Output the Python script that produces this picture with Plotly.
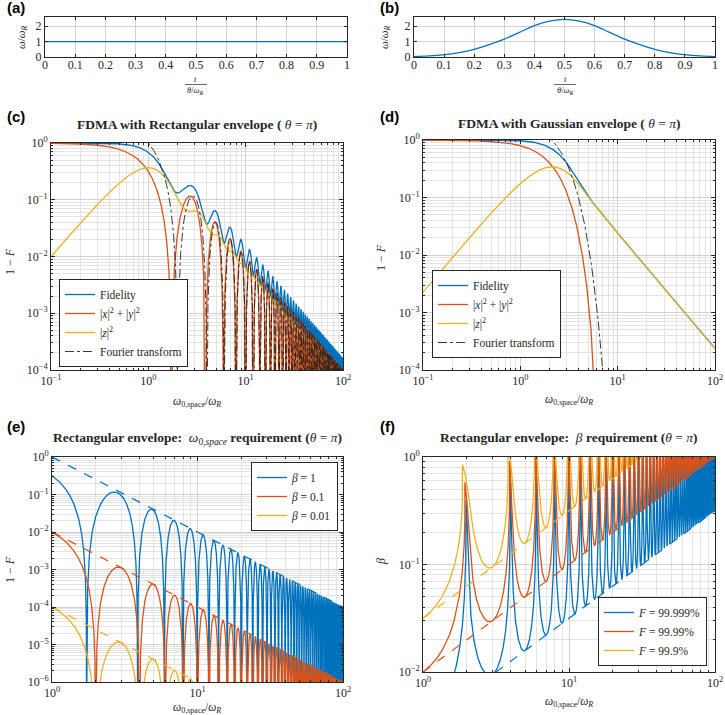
import numpy as np
import plotly.graph_objects as go

# ---------------- parameters / data ----------------
THETA = np.pi                      # pulse area (theta = pi)
GAUSS_SIGMA = 0.144                # Gaussian envelope width used for panel (d), units of theta/omega_R
BETAS = [1.0, 0.1, 0.01]
BETA_LABELS = ["<i>β</i> = 1", "<i>β</i> = 0.1", "<i>β</i> = 0.01"]
FIDELITIES = [0.99999, 0.9999, 0.999]
FID_LABELS = ["<i>F</i> = 99.999%", "<i>F</i> = 99.99%", "<i>F</i> = 99.9%"]
FDMA_LABELS = ["Fidelity", "|<i>x</i>|<sup>2</sup> + |<i>y</i>|<sup>2</sup>",
               "|<i>z</i>|<sup>2</sup>", "Fourier transform"]

# panel (a): rectangular envelope omega/omega_R vs t/(theta/omega_R)
rect_t = [0.0, 1.0]
rect_w = [1.0, 1.0]
# panel (b): Gaussian envelope
gauss_t = [0.0, 0.05, 0.1, 0.15, 0.2, 0.25, 0.3, 0.35, 0.4, 0.45, 0.5,
           0.55, 0.6, 0.65, 0.7, 0.75, 0.8, 0.85, 0.9, 0.95, 1.0]
gauss_w = [0.03, 0.07, 0.15, 0.29, 0.50, 0.80, 1.16, 1.60, 2.04, 2.33, 2.44,
           2.33, 2.04, 1.60, 1.16, 0.80, 0.50, 0.29, 0.15, 0.07, 0.03]

lin_x_ticks = [0, 0.1, 0.2, 0.3, 0.4, 0.5, 0.6, 0.7, 0.8, 0.9, 1]
lin_y_ticks = [0, 1, 2]

BLUE, ORANGE, YELLOW = "#0072BD", "#D95319", "#EDB120"
TXT = "#262626"
GRID_MAJ = "#d2d2d2"
GRID_MIN = "#e3e3e3"
SERIF = "Liberation Serif"


# ---------------- model evaluation ----------------
def evolve(env, x):
    """Piecewise-constant two-level evolution; returns (a, b) in the qubit frame."""
    M = len(env)
    dt = THETA / M
    a = np.ones_like(x)
    b = np.zeros((3, x.size))
    zero = np.zeros_like(x)
    for om in env:
        w = np.sqrt(om ** 2 + x ** 2)
        c = np.cos(w * dt / 2)
        s = np.sin(w * dt / 2)
        b2 = np.stack([s * om / w, zero, s * x / w])
        a, b = c * a - (b2 * b).sum(0), c * b + a * b2 + np.cross(b2, b, axis=0)
    al = x * THETA / 2
    a0 = np.cos(al)
    b0 = np.stack([zero, zero, -np.sin(al)])
    af = a0 * a - (b0 * b).sum(0)
    bf = a0 * b + a * b0 + np.cross(b0, b, axis=0)
    return af, bf


def fourier(env, x):
    M = len(env)
    dt = THETA / M
    tk = (np.arange(M) + 0.5) * dt
    amp = np.zeros(x.size, dtype=complex)
    sinc = np.sinc(x * dt / (2 * np.pi))
    for om, t in zip(env, tk):
        amp += om / 2 * np.exp(1j * x * t) * dt * sinc
    return np.abs(amp) ** 2


def fdma(env, x):
    af, bf = evolve(env, x)
    return 1 - af ** 2, bf[0] ** 2 + bf[1] ** 2, bf[2] ** 2, fourier(env, x)


x_c = np.logspace(-1, 2, 15000)
env_rect = np.array([1.0])
c_fid, c_xy, c_z, c_ft = fdma(env_rect, x_c)

x_d = np.logspace(-1, 2, 2000)
Mg = 300
sg = (np.arange(Mg) + 0.5) / Mg
env_g = np.exp(-(sg - 0.5) ** 2 / (2 * GAUSS_SIGMA ** 2))
env_g = env_g / env_g.mean()
d_fid, d_xy, d_z, d_ft = fdma(env_g, x_d)


def p_beta(beta, x):
    r = np.sqrt(x ** 2 + beta ** 2)
    return beta ** 2 / r ** 2 * np.sin(np.pi * r / 2) ** 2


x_e = np.logspace(0, 2, 15000)
e_curves = [p_beta(b, x_e) for b in BETAS]
e_env = [b ** 2 / x_e ** 2 for b in BETAS]

x_f = np.logspace(0, 2, 6000)


def beta_req(x, eps):
    bgrid = np.logspace(-4, 0.6, 500)
    Pm = p_beta(bgrid[None, :], x[:, None])
    above = Pm >= eps
    has = above.any(1)
    idx = np.argmax(above, axis=1)
    lo = bgrid[np.maximum(idx - 1, 0)]
    hi = bgrid[idx]
    for _ in range(40):
        mid = 0.5 * (lo + hi)
        up = p_beta(mid, x) >= eps
        hi = np.where(up, mid, hi)
        lo = np.where(up, lo, mid)
    return np.where(has, 0.5 * (lo + hi), 4.0)


f_curves = [beta_req(x_f, 1 - F) for F in FIDELITIES]
f_env = [x_f * np.sqrt(1 - F) for F in FIDELITIES]

# ---------------- layout helpers ----------------
W, H = 725, 715


def P(px):
    return px / W


def Q(py):
    return 1 - py / H


def sup(k):
    return "10<sup>" + (str(k) if k >= 0 else "\u2212" + str(-k)) + "</sup>"


def log_axis(lo, hi, dom, anchor):
    majors = [10.0 ** k for k in range(lo, hi + 1)]
    minors = [m * 10.0 ** k for k in range(lo, hi) for m in range(2, 10)]
    return dict(type="log", range=[lo, hi], domain=dom, anchor=anchor, automargin=False,
                tickmode="array", tickvals=majors, ticktext=[sup(k) for k in range(lo, hi + 1)],
                ticks="inside", ticklen=4, tickcolor=TXT,
                showgrid=True, gridcolor=GRID_MAJ, gridwidth=1,
                minor=dict(tickmode="array", tickvals=minors, ticks="inside", ticklen=2,
                           tickcolor=TXT, showgrid=True, gridcolor=GRID_MIN, gridwidth=1),
                showline=True, mirror="ticks", linecolor=TXT, linewidth=1, zeroline=False,
                tickfont=dict(family=SERIF, size=12, color=TXT))


def lin_axis(rng, ticks, dom, anchor, standoff=0):
    return dict(range=rng, domain=dom, anchor=anchor, automargin=False,
                tickmode="array", tickvals=ticks,
                ticktext=[("%g" % t) for t in ticks],
                ticks="inside", ticklen=3, tickcolor=TXT, ticklabelstandoff=standoff,
                showgrid=True, gridcolor=GRID_MAJ, gridwidth=1,
                showline=True, mirror="ticks", linecolor=TXT, linewidth=1, zeroline=False,
                tickfont=dict(family=SERIF, size=12, color=TXT))


fig = go.Figure()

# (a)
fig.add_trace(go.Scatter(x=rect_t, y=rect_w, mode="lines", line=dict(color=BLUE, width=1.2),
                         xaxis="x", yaxis="y", showlegend=False))
# (b)
fig.add_trace(go.Scatter(x=gauss_t, y=gauss_w, mode="lines", line=dict(color=BLUE, width=1.2, shape="spline"),
                         xaxis="x2", yaxis="y2", showlegend=False))

# (c)
for yv, col, name in [(c_fid, BLUE, FDMA_LABELS[0]), (c_xy, ORANGE, FDMA_LABELS[1]),
                      (c_z, YELLOW, FDMA_LABELS[2])]:
    fig.add_trace(go.Scatter(x=x_c, y=yv, mode="lines", name=name, legend="legend",
                             line=dict(color=col, width=1.3), xaxis="x3", yaxis="y3"))
fig.add_trace(go.Scatter(x=x_c, y=c_ft, mode="lines", name=FDMA_LABELS[3], legend="legend",
                         line=dict(color="#222222", width=0.9, dash="dashdot"), xaxis="x3", yaxis="y3"))

# (d)
for yv, col, name in [(d_fid, BLUE, FDMA_LABELS[0]), (d_xy, ORANGE, FDMA_LABELS[1]),
                      (d_z, YELLOW, FDMA_LABELS[2])]:
    fig.add_trace(go.Scatter(x=x_d, y=yv, mode="lines", name=name, legend="legend2",
                             line=dict(color=col, width=1.3), xaxis="x4", yaxis="y4"))
fig.add_trace(go.Scatter(x=x_d, y=d_ft, mode="lines", name=FDMA_LABELS[3], legend="legend2",
                         line=dict(color="#222222", width=0.9, dash="dashdot"), xaxis="x4", yaxis="y4"))

# (e)
cols = [BLUE, ORANGE, YELLOW]
for yv, col, name in zip(e_curves, cols, BETA_LABELS):
    fig.add_trace(go.Scatter(x=x_e, y=yv, mode="lines", name=name, legend="legend3",
                             line=dict(color=col, width=1.3), xaxis="x5", yaxis="y5"))
for yv, col in zip(e_env, cols):
    fig.add_trace(go.Scatter(x=x_e, y=yv, mode="lines", showlegend=False,
                             line=dict(color=col, width=1.2, dash="dash"), xaxis="x5", yaxis="y5"))

# (f)
for yv, col, name in zip(f_curves, cols, FID_LABELS):
    fig.add_trace(go.Scatter(x=x_f, y=yv, mode="lines", name=name, legend="legend4",
                             line=dict(color=col, width=1.3), xaxis="x6", yaxis="y6"))
for yv, col in zip(f_env, cols):
    fig.add_trace(go.Scatter(x=x_f, y=yv, mode="lines", showlegend=False,
                             line=dict(color=col, width=1.2, dash="dash"), xaxis="x6", yaxis="y6"))

leg_common = dict(bgcolor="white", bordercolor=TXT, borderwidth=1, tracegroupgap=0, itemwidth=30,
                  font=dict(family=SERIF, size=11.5, color=TXT))

fig.update_layout(
    width=W, height=H, autosize=False, margin=dict(l=0, r=0, t=0, b=0, pad=0),
    font=dict(family=SERIF, size=12, color=TXT),
    paper_bgcolor="white", plot_bgcolor="white",
    xaxis=lin_axis([0, 1], lin_x_ticks, [P(45), P(347)], "y", standoff=-3),
    yaxis=lin_axis([0, 2.6], lin_y_ticks, [Q(57), Q(17)], "x"),
    xaxis2=lin_axis([0, 1], lin_x_ticks, [P(414), P(715)], "y2", standoff=-3),
    yaxis2=lin_axis([0, 2.6], lin_y_ticks, [Q(57), Q(17)], "x2"),
    xaxis3=log_axis(-1, 2, [P(51), P(343)], "y3"),
    yaxis3=log_axis(-4, 0, [Q(370), Q(143)], "x3"),
    xaxis4=log_axis(-1, 2, [P(423), P(715)], "y4"),
    yaxis4=log_axis(-4, 0, [Q(370), Q(140)], "x4"),
    xaxis5=log_axis(0, 2, [P(52), P(343)], "y5"),
    yaxis5=log_axis(-6, 0, [Q(682), Q(457)], "x5"),
    xaxis6=log_axis(0, 2, [P(423), P(715)], "y6"),
    yaxis6=log_axis(-2, 0, [Q(672), Q(457)], "x6"),
    legend=dict(x=P(59), y=Q(367), xanchor="left", yanchor="bottom", **leg_common),
    legend2=dict(x=P(432), y=Q(358), xanchor="left", yanchor="bottom", **leg_common),
    legend3=dict(x=P(338), y=Q(462), xanchor="right", yanchor="top", **leg_common),
    legend4=dict(x=P(707), y=Q(666), xanchor="right", yanchor="bottom", **leg_common),
)

ann = []


def add_text(px, py, text, size=12, angle=0, family=SERIF, color=TXT):
    ann.append(dict(x=P(px), y=Q(py), xref="paper", yref="paper", text=text, showarrow=False,
                    xanchor="center", yanchor="middle", textangle=angle,
                    font=dict(family=family, size=size, color=color)))


# panel letters
for lab, px, py in [("(a)", 16, 7), ("(b)", 389, 7), ("(c)", 16, 117), ("(d)", 389, 117),
                    ("(e)", 16, 426), ("(f)", 387, 426)]:
    add_text(px, py, "<b>" + lab + "</b>", size=15, family="Liberation Sans", color="black")

# titles
add_text(197, 125, "<b>FDMA with Rectangular envelope ( </b><i>θ</i> = <i>π</i><b>)</b>", size=13.5)
add_text(569, 123, "<b>FDMA with Gaussian envelope ( </b><i>θ</i> = <i>π</i><b>)</b>", size=13.5)
add_text(197, 438, "<b>Rectangular envelope:  </b><i>ω</i><sub>0,<i>space</i></sub><b> requirement (</b><i>θ</i> = <i>π</i><b>)</b>", size=13.5)
add_text(569, 437, "<b>Rectangular envelope:  </b><i>β</i><b> requirement (</b><i>θ</i> = <i>π</i><b>)</b>", size=13.5)

# y titles
add_text(22, 37, "<i>ω</i>/<i>ω</i><sub><i>R</i></sub>", size=11, angle=-90)
add_text(385, 37, "<i>ω</i>/<i>ω</i><sub><i>R</i></sub>", size=11, angle=-90)
add_text(10, 262, "1 − <i>F</i>", size=12, angle=-90)
add_text(381, 258, "1 − <i>F</i>", size=12, angle=-90)
add_text(10, 570, "1 − <i>F</i>", size=12, angle=-90)
add_text(381, 562, "<i>β</i>", size=12, angle=-90)

# x titles
wlab = "<i>ω</i><sub>0,space</sub>/<i>ω</i><sub><i>R</i></sub>"
add_text(197, 402, wlab, size=11.5)
add_text(569, 400, wlab, size=11.5)
add_text(197, 708, wlab, size=11.5)
add_text(569, 702, wlab, size=11.5)

# fraction t/(theta/omega_R)
shapes = []
for cx in (196, 565):
    add_text(cx, 78.5, "<i>t</i>", size=8.5)
    add_text(cx, 90.5, "<i>θ</i>/<i>ω</i><sub><i>R</i></sub>", size=8.5)
    shapes.append(dict(type="line", xref="paper", yref="paper", x0=P(cx - 11), x1=P(cx + 11),
                       y0=Q(84.5), y1=Q(84.5), line=dict(color=TXT, width=0.7)))

fig.update_layout(annotations=ann, shapes=shapes)
fig.write_html("out.html",
               post_script="document.body.style.margin='0';document.body.style.padding='0';"
                           "document.documentElement.style.overflow='hidden';")
